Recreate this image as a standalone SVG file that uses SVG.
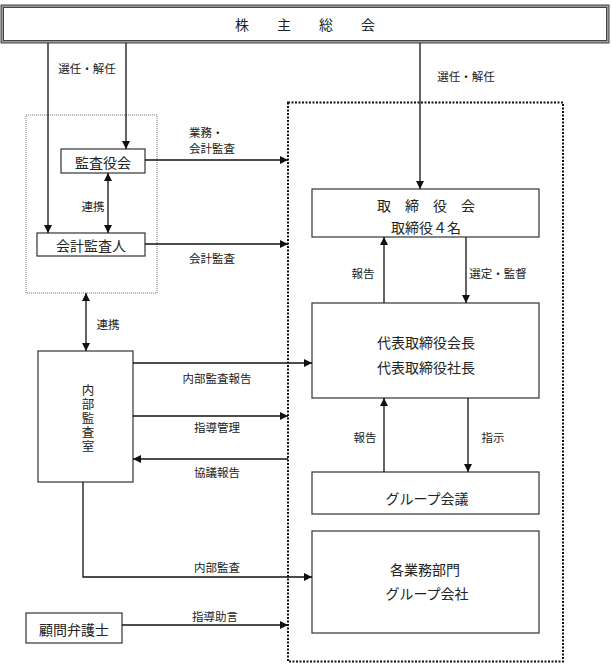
<svg xmlns="http://www.w3.org/2000/svg" width="611" height="668" viewBox="0 0 611 668">
<style>
text{font-family:"Noto Sans CJK JP","Noto Sans",sans-serif;fill:#222;dominant-baseline:central}
.box{fill:#fff;stroke:#333;stroke-width:1.2}
.bt{font-size:14px;text-anchor:middle}
.vt{font-size:12.5px;text-anchor:middle}
.lb{font-size:11.5px}
.c{text-anchor:middle}
.ln{fill:none;stroke:#111;stroke-width:1.3}
</style>
<defs>
<marker id="ah" viewBox="0 0 10 10" refX="10" refY="5" markerWidth="9" markerHeight="8" markerUnits="userSpaceOnUse" orient="auto-start-reverse">
<path d="M0,0 L10,5 L0,10 Z" fill="#111"/>
</marker>
</defs>
<rect width="611" height="668" fill="#fff"/>
<g id="kabunushi">
<rect x="1" y="5" width="608" height="38" fill="#999" stroke="#444" stroke-width="1"/>
<rect x="3.5" y="7.5" width="603" height="33" fill="#fff" stroke="#444" stroke-width="1"/>
<text class="bt" x="305" y="24">株　　主　　総　　会</text>
</g>
<g id="auditGroup">
<rect x="26" y="115" width="131" height="178" fill="none" stroke="#777" stroke-width="1" stroke-dasharray="1 1"/>
</g>
<g id="executiveGroup">
<rect x="288" y="102.5" width="275" height="559" fill="none" stroke="#111" stroke-width="2" stroke-dasharray="2 1.5"/>
</g>
<g id="kansayakukai">
<rect class="box" x="61" y="149" width="84" height="24"/>
<text class="bt" x="103" y="162">監査役会</text>
</g>
<g id="kaikeikansanin">
<rect class="box" x="37" y="233" width="108" height="23"/>
<text class="bt" x="91" y="245">会計監査人</text>
</g>
<g id="torishimariyakukai">
<rect class="box" x="312" y="189" width="227" height="48"/>
<text class="bt" x="426" y="205">取　締　役　会</text>
<text class="bt" x="426" y="227">取締役４名</text>
</g>
<g id="daihyo">
<rect class="box" x="312" y="303" width="227" height="95"/>
<text class="bt" x="426" y="342">代表取締役会長</text>
<text class="bt" x="426" y="367">代表取締役社長</text>
</g>
<g id="groupKaigi">
<rect class="box" x="312" y="472" width="227" height="42"/>
<text class="bt" x="427" y="498">グループ会議</text>
</g>
<g id="gyomubumon">
<rect class="box" x="312" y="531" width="227" height="102"/>
<text class="bt" x="425" y="569">各業務部門</text>
<text class="bt" x="427" y="593">グループ会社</text>
</g>
<g id="naibukansashitsu">
<rect class="box" x="38" y="351" width="95" height="131"/>
<text class="vt"><tspan x="88" y="388.5">内</tspan><tspan x="88" y="402.5">部</tspan><tspan x="88" y="416.5">監</tspan><tspan x="88" y="430.5">査</tspan><tspan x="88" y="444.5">室</tspan></text>
</g>
<g id="komonbengoshi">
<rect class="box" x="26" y="613" width="96" height="30"/>
<text class="bt" x="74" y="629">顧問弁護士</text>
</g>
<g id="connectors">
<line class="ln" x1="48" y1="43" x2="48" y2="233" marker-end="url(#ah)"/>
<line class="ln" x1="126" y1="43" x2="126" y2="149" marker-end="url(#ah)"/>
<line class="ln" x1="420" y1="43" x2="420" y2="189" marker-end="url(#ah)"/>
<line class="ln" x1="108" y1="173" x2="108" y2="233" marker-start="url(#ah)" marker-end="url(#ah)"/>
<line class="ln" x1="145" y1="160" x2="288" y2="160" marker-end="url(#ah)"/>
<line class="ln" x1="145" y1="244" x2="288" y2="244" marker-end="url(#ah)"/>
<line class="ln" x1="86" y1="293" x2="86" y2="351" marker-start="url(#ah)" marker-end="url(#ah)"/>
<line class="ln" x1="133" y1="363" x2="312" y2="363" marker-end="url(#ah)"/>
<line class="ln" x1="133" y1="416" x2="288" y2="416" marker-end="url(#ah)"/>
<line class="ln" x1="288" y1="459" x2="133" y2="459" marker-end="url(#ah)"/>
<line class="ln" x1="384" y1="303" x2="384" y2="237" marker-end="url(#ah)"/>
<line class="ln" x1="466" y1="237" x2="466" y2="303" marker-end="url(#ah)"/>
<line class="ln" x1="384" y1="472" x2="384" y2="398" marker-end="url(#ah)"/>
<line class="ln" x1="468" y1="398" x2="468" y2="472" marker-end="url(#ah)"/>
<polyline class="ln" points="83,482 83,577 312,577" marker-end="url(#ah)"/>
<line class="ln" x1="122" y1="625" x2="288" y2="625" marker-end="url(#ah)"/>
<text class="lb c" x="87" y="68">選任・解任</text>
<text class="lb c" x="466" y="76">選任・解任</text>
<text class="lb" x="189" y="132">業務・</text>
<text class="lb" x="189" y="147.5">会計監査</text>
<text class="lb c" x="93" y="206">連携</text>
<text class="lb" x="189" y="258">会計監査</text>
<text class="lb c" x="363" y="273">報告</text>
<text class="lb c" x="498" y="273">選定・監督</text>
<text class="lb c" x="108" y="324">連携</text>
<text class="lb c" x="217" y="378">内部監査報告</text>
<text class="lb c" x="217" y="427">指導管理</text>
<text class="lb c" x="217" y="472">協議報告</text>
<text class="lb c" x="365" y="437">報告</text>
<text class="lb c" x="493" y="437">指示</text>
<text class="lb c" x="217" y="567">内部監査</text>
<text class="lb c" x="215" y="616">指導助言</text>
</g>
</svg>
